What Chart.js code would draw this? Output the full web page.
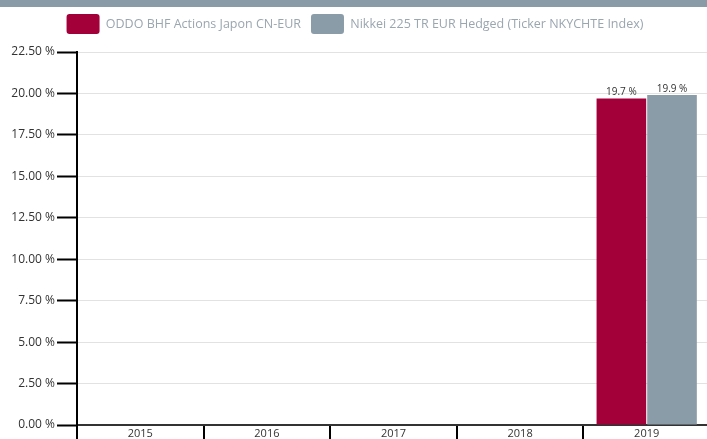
<!DOCTYPE html>
<html>
<head>
<meta charset="utf-8">
<script src="https://cdn.jsdelivr.net/npm/chart.js@4/dist/chart.umd.min.js"></script>
<style>
    html, body { margin: 0; padding: 0; background: #ffffff; overflow: hidden; }
    #topBand { position: absolute; left: 0; top: 0; width: 707px; height: 7px; background: #8a9ba8; }
    #wrap { position: absolute; left: 0; top: 0; width: 710px; height: 439px; }
</style>
</head>
<body>
<div id="wrap"><canvas id="barChart"></canvas></div>
<div id="topBand"></div>
<script>
// ---------------- DATA ----------------
const years = ["2015", "2016", "2017", "2018", "2019"];
const fundName = "ODDO BHF Actions Japon CN-EUR";
const indexName = "Nikkei 225 TR EUR Hedged (Ticker NKYCHTE Index)";
const fundValues = [null, null, null, null, 19.7];
const indexValues = [null, null, null, null, 19.9];

const fundColor = "#a3003a";
const indexColor = "#8b9ca9";

// ---------------- VALUE LABELS ----------------
const valueLabels = {
    id: "valueLabels",
    afterDatasetsDraw(chart) {
        const ctx = chart.ctx;
        ctx.save();
        ctx.font = "10px 'Open Sans'";
        ctx.fillStyle = "#333333";
        ctx.textAlign = "center";
        ctx.textBaseline = "bottom";
        chart.data.datasets.forEach((ds, i) => {
            chart.getDatasetMeta(i).data.forEach((bar, j) => {
                const v = ds.data[j];
                if (v === null) return;
                ctx.fillText(v.toFixed(1) + " %", bar.x, bar.y - 1);
            });
        });
        ctx.restore();
    }
};

// extra room under the legend
const legendGap = {
    id: "legendGap",
    beforeInit(chart) {
        const fit = chart.legend.fit;
        chart.legend.fit = function () {
            fit.bind(chart.legend)();
            this.height += 8;
        };
    }
};

new Chart(document.getElementById("barChart"), {
    type: "bar",
    data: {
        labels: years,
        datasets: [
            {
                label: fundName,
                data: fundValues,
                backgroundColor: fundColor,
                categoryPercentage: 0.8,
                barPercentage: 0.98
            },
            {
                label: indexName,
                data: indexValues,
                backgroundColor: indexColor,
                categoryPercentage: 0.8,
                barPercentage: 0.98
            }
        ]
    },
    options: {
        responsive: true,
        maintainAspectRatio: false,
        animation: false,
        layout: { padding: { top: 4, left: 0, right: 0, bottom: 0 } },
        plugins: {
            legend: {
                labels: {
                    boxWidth: 33,
                    boxHeight: 20,
                    useBorderRadius: true,
                    borderRadius: 3,
                    color: "#9aa6b0",
                    padding: 10,
                    font: { family: "'Open Sans'", size: 12.5 }
                }
            },
            tooltip: { enabled: false }
        },
        scales: {
            x: {
                grid: {
                    offset: true,
                    drawOnChartArea: false,
                    color: "#000000",
                    lineWidth: 2,
                    tickLength: 14
                },
                border: { color: "#333333", width: 2 },
                ticks: {
                    color: "#333333",
                    padding: -12,
                    font: { family: "'Open Sans'", size: 11 }
                },
                afterFit: s => { s.height = 14; }
            },
            y: {
                min: 0,
                max: 22.5,
                grid: {
                    color: "#e2e2e2",
                    tickColor: "#000000",
                    tickWidth: 2,
                    tickLength: 20
                },
                border: { color: "#000000", width: 2 },
                ticks: {
                    stepSize: 2.5,
                    color: "#333333",
                    padding: 2,
                    font: { family: "'Open Sans'", size: 12 },
                    callback: v => v.toFixed(2) + " %"
                },
                afterFit: s => { s.width = 77; }
            }
        }
    },
    plugins: [valueLabels, legendGap]
});
</script>
</body>
</html>
